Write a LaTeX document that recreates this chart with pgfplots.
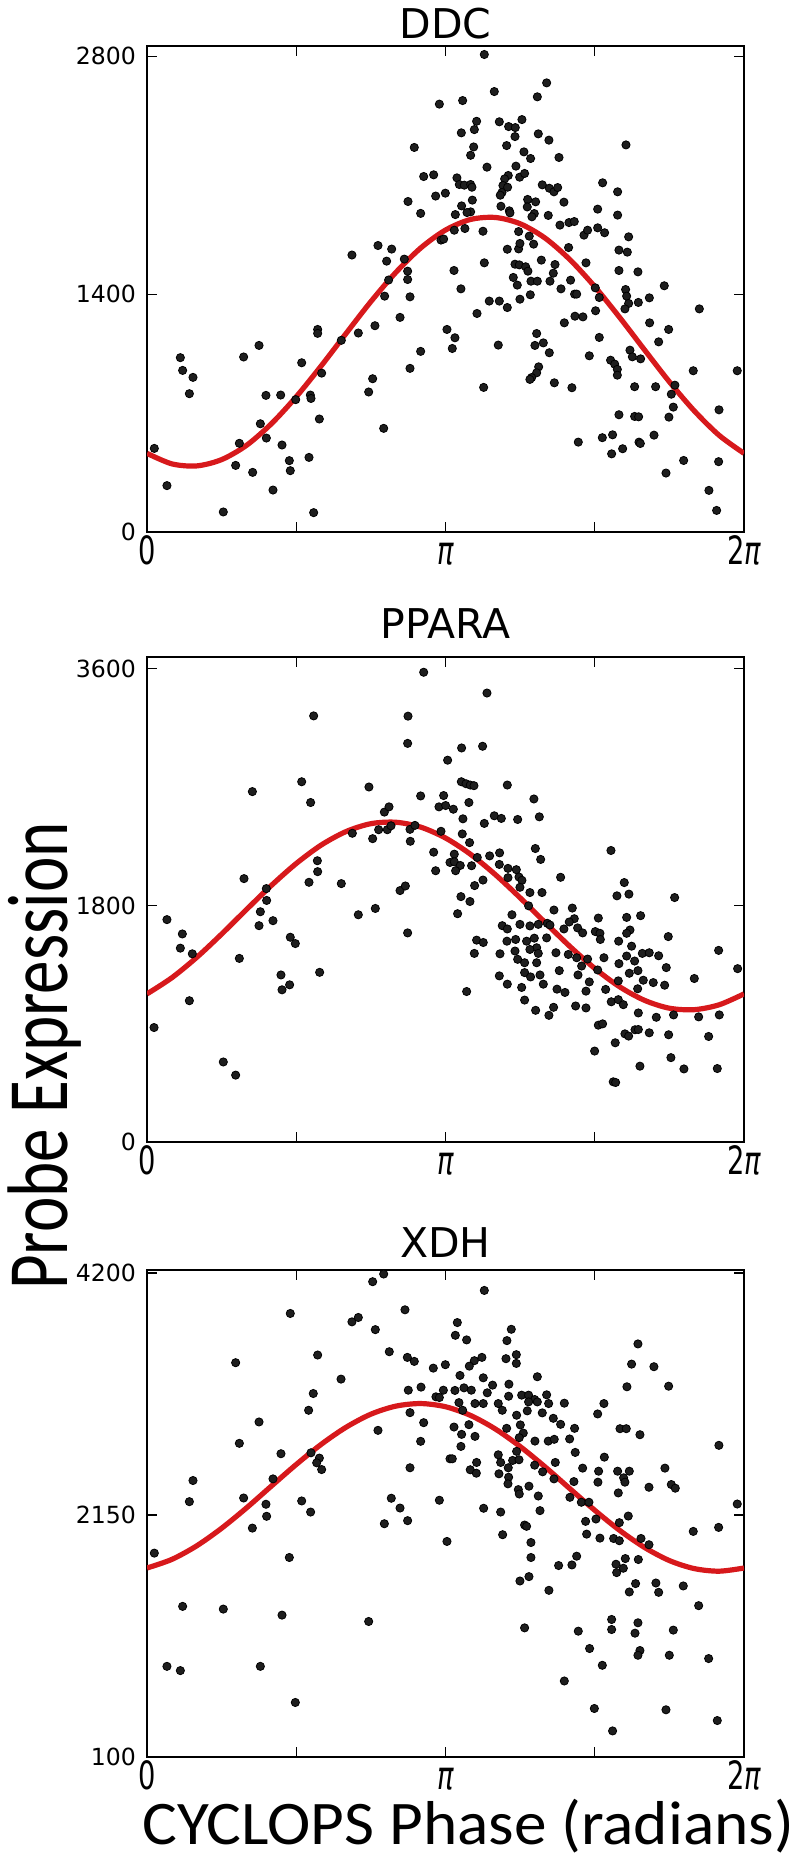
\documentclass[border=0pt]{standalone}
\usepackage{fontspec}
\setmainfont{DejaVu Sans}
\newfontfamily\calibri{Carlito}
\usepackage{pgfplots}
\usepackage{pgfplotstable}
\pgfplotsset{compat=1.18}
\definecolor{fitred}{HTML}{D7191C}
\definecolor{dotgrey}{HTML}{1E1E1E}
\newcommand{\sq}[1]{\scalebox{0.7}[1]{#1}}

\pgfplotsset{
  panel/.style={
    scale only axis, width=298.5pt, anchor=south west,
    xmin=0, xmax=6.2832,
    xtick={0,1.5708,3.1416,4.7124,6.2832},
    xticklabels={\sq{0},,\sq{\itshape π},,\sq{2\itshape π}},
    tick align=inside, major tick length=5pt,
    tick style={black,line width=0.6pt},
    axis line style={line width=0.8pt},
    x tick label style={font=\fontsize{19.5}{20}\selectfont,anchor=base,inner sep=0pt,yshift=-16pt},
    y tick label style={font=\fontsize{11.8}{12}\selectfont,xshift=-2pt},
    title style={font=\fontsize{20.5}{21}\selectfont,at={(0.5,1)},anchor=base},
  },
  dots/.style={only marks,mark=*,mark size=2.05pt,mark options={draw=none,fill=dotgrey}},
  fitline/.style={no marks,fitred,line width=2.6pt,smooth},
}

% cosine fits
\pgfplotstableread{
x      ddc  ppara xdh
0      463  1127  1701
0.2618 401  1250  1774
0.5236 389  1405  1889
0.7854 426  1582  2038
1.0472 510  1769  2210
1.3090 637  1952  2395
1.5708 796  2119  2578
1.8326 977  2259  2748
2.0944 1168 2362  2893
2.3562 1356 2422  3004
2.6180 1527 2433  3072
2.8798 1671 2396  3094
3.1416 1777 2313  3067
3.4034 1839 2190  2994
3.6652 1851 2035  2879
3.9270 1814 1858  2730
4.1888 1730 1671  2558
4.4506 1603 1488  2373
4.7124 1444 1321  2190
4.9742 1263 1181  2020
5.2360 1072 1078  1875
5.4978 884  1018  1764
5.7596 713  1007  1696
6.0214 569  1044  1674
6.2832 463  1127  1701
}\fits

\begin{document}
\begin{tikzpicture}
\path[use as bounding box] (0,0) rectangle (396.5pt,-929.5pt);

% ---- DDC
\begin{axis}[panel, at={(73.5pt,-266pt)}, height=243pt,
  ymin=0, ymax=2860, ytick={0,1400,2800}, yticklabels={0,1400,2800},
  title={DDC}, title style={yshift=-2pt}]
\addplot[dots] coordinates {
(3.077,2518)(2.813,2263)(2.912,2092)(3.017,2102)(3.038,1977)(3.140,1994)(2.747,1945)(2.880,1875)(3.094,1718)(3.122,1724)(2.157,1630)(2.431,1686)(2.575,1665)(2.522,1594)(2.708,1606)(2.743,1535)(2.743,1486)(2.543,1483)(2.501,1388)(2.768,1384)(2.663,1263)(2.399,1214)(2.224,1171)(2.045,1128)(1.796,1192)(1.796,1169)(3.157,1192)(1.179,1098)(1.017,1030)(0.351,1026)(0.375,951)(0.484,910)(0.446,814)(1.628,996)(1.838,935)(2.375,902)(2.333,824)(2.880,1063)(2.768,963)(1.252,804)(1.407,806)(1.565,779)(1.719,806)(1.726,786)(1.814,665)(2.491,610)(1.193,637)(1.256,553)(0.972,522)(1.421,512)(0.077,492)(0.933,392)(1.112,351)(1.498,420)(1.508,361)(1.705,439)(0.210,273)(1.326,247)(0.803,118)(1.754,114)
(3.550,2810)(4.206,2643)(3.655,2592)(4.108,2561)(3.322,2539)(3.469,2417)(3.445,2368)(3.708,2414)(3.806,2386)(3.876,2380)(3.946,2427)(3.308,2349)(3.873,2327)(4.118,2343)(4.230,2306)(3.438,2266)(3.785,2274)(3.406,2217)(3.967,2237)(4.037,2198)(4.336,2204)(3.578,2147)(3.883,2153)(3.802,2098)(3.764,2078)(3.922,2088)(3.974,2110)(3.262,2084)(3.287,2045)(3.339,2041)(3.406,2045)(3.420,2029)(3.746,2039)(3.736,1998)(3.795,2029)(4.160,2043)(4.234,2023)(4.283,2002)(4.322,2027)(4.388,1941)(4.795,2055)(4.953,2002)(5.041,2278)(3.424,1953)(3.311,1919)(3.718,1982)(3.725,1917)(4.006,1957)(4.090,1943)(4.002,1913)(3.245,1868)(3.406,1884)(3.368,1880)(3.813,1890)(3.820,1878)(4.076,1874)(4.051,1855)(4.223,1863)(4.743,1900)(4.953,1865)
(3.346,1786)(3.234,1776)(3.536,1770)(3.911,1768)(4.023,1741)(4.346,1806)(4.441,1821)(4.497,1827)(4.599,1747)(4.637,1776)(4.743,1790)(4.816,1761)(5.069,1737)(3.792,1664)(3.911,1666)(3.925,1698)(4.069,1694)(4.437,1674)(4.967,1659)(5.055,1647)(3.550,1584)(3.873,1576)(3.918,1572)(3.985,1561)(4.009,1535)(4.150,1600)(4.294,1574)(4.620,1584)(4.967,1539)(5.167,1531)(3.231,1539)(3.855,1498)(3.897,1453)(4.041,1476)(4.108,1476)(4.241,1476)(4.276,1523)(4.458,1482)(4.357,1431)(4.500,1400)(4.522,1400)(4.718,1437)(4.760,1380)(5.037,1427)(5.048,1388)(5.069,1345)(5.030,1313)(5.171,1351)(5.287,1378)(5.444,1449)(5.813,1313)(3.304,1431)(3.602,1359)(3.708,1359)(3.792,1321)(3.473,1286)(3.925,1370)(4.034,1396)(4.721,1302)(4.392,1231)(4.504,1270)(4.588,1266)(5.290,1231)(5.490,1192)
(3.241,1143)(3.213,1080)(3.697,1100)(4.101,1168)(4.083,1098)(4.171,1113)(4.234,1055)(4.760,1145)(4.655,1037)(5.385,1119)(5.083,1070)(5.108,1031)(5.195,1019)(4.879,1011)(4.922,988)(4.950,957)(4.950,923)(5.749,949)(6.212,949)(4.122,972)(4.101,937)(4.048,909)(4.030,898)(4.287,878)(4.472,849)(3.543,851)(5.132,855)(5.353,855)(5.556,864)(5.518,811)(5.539,735)(5.493,676)(4.967,690)(5.132,680)(5.174,678)(6.020,719)(4.539,529)(4.792,555)(4.900,572)(4.890,460)(5.006,490)(5.178,529)(5.192,521)(5.336,570)(5.648,421)(6.016,414)(5.462,347)(5.914,245)(5.995,127)
};
\addplot[fitline] table[x=x,y=ddc]{\fits};
\end{axis}

% ---- PPARA
\begin{axis}[panel, at={(73.5pt,-571pt)}, height=242.5pt,
  ymin=0, ymax=3690, ytick={0,1800,3600}, yticklabels={0,1800,3600},
  title={PPARA}, title style={yshift=3.5pt}]
\addplot[dots] coordinates {
(2.912,3574)(1.754,3242)(2.747,3240)(2.743,3033)(3.164,2905)(1.628,2741)(1.109,2666)(1.722,2583)(2.336,2701)(2.880,2633)(3.122,2636)(3.073,2550)(3.143,2560)(2.498,2510)(2.547,2550)(2.161,2349)(2.438,2376)(2.529,2376)(2.568,2406)(2.375,2308)(2.768,2379)(2.820,2409)(2.771,2288)(3.094,2364)(3.017,2205)(3.038,2064)(3.189,2127)(1.793,2140)(1.796,2057)(1.705,1976)(2.045,1966)(1.021,2004)(1.256,1928)(1.259,1838)(1.193,1752)(1.179,1646)(1.326,1684)(2.663,1913)(2.719,1948)(2.224,1729)(2.403,1777)(2.743,1591)(0.210,1692)(0.372,1583)(0.351,1475)(0.477,1432)(0.972,1397)(1.508,1558)(1.561,1510)(1.817,1291)(1.410,1271)(1.421,1158)(1.501,1196)(0.446,1075)(0.074,871)(0.803,609)(0.933,509)
(3.578,3416)(3.311,2998)(3.532,3011)(3.308,2741)(3.357,2726)(3.402,2716)(3.441,2711)(3.792,2716)(4.072,2610)(3.388,2583)(3.224,2532)(3.325,2459)(3.655,2482)(3.729,2462)(3.901,2454)(4.129,2474)(3.550,2424)(3.318,2344)(3.395,2278)(4.087,2233)(4.143,2150)(4.883,2218)(3.606,2177)(3.711,2200)(3.234,2190)(3.234,2132)(3.297,2104)(3.416,2102)(3.476,2165)(3.248,2064)(3.708,2112)(3.799,2082)(3.887,2072)(3.799,2011)(3.915,2016)(3.946,1991)(3.925,1938)(3.536,1993)(3.448,1951)(4.030,1898)(4.157,1898)(4.353,2014)(5.023,1974)(4.946,1873)(5.072,1886)(5.553,1860)(3.304,1867)(3.399,1830)(3.269,1737)(3.841,1729)(4.016,1797)(4.283,1765)(4.476,1780)(4.497,1699)(4.750,1704)(5.048,1709)(5.195,1722)
(3.739,1646)(3.792,1621)(3.925,1656)(4.030,1644)(4.118,1656)(4.213,1664)(4.241,1651)(4.388,1621)(4.444,1674)(4.532,1629)(4.585,1591)(4.718,1601)(4.767,1588)(5.083,1613)(5.048,1588)(5.486,1563)(3.469,1536)(3.539,1518)(3.788,1528)(3.880,1541)(3.995,1528)(4.076,1551)(4.206,1553)(4.101,1478)(4.771,1541)(4.964,1528)(5.100,1490)(3.445,1435)(3.715,1432)(3.873,1453)(4.030,1465)(4.118,1435)(4.304,1440)(4.434,1427)(4.522,1402)(4.637,1392)(4.809,1402)(5.048,1415)(5.132,1377)(5.213,1435)(5.286,1440)(5.385,1417)(6.016,1458)(3.901,1390)(3.974,1364)(4.101,1364)(4.574,1339)(4.743,1309)(4.967,1357)(5.167,1304)(5.465,1327)(6.216,1319)(5.760,1244)
(3.708,1264)(3.792,1201)(3.974,1289)(4.037,1256)(4.136,1271)(4.171,1201)(4.339,1304)(4.536,1271)(4.655,1218)(4.960,1226)(5.076,1284)(5.223,1231)(5.328,1213)(5.448,1193)(3.364,1145)(3.943,1176)(4.315,1163)(4.399,1138)(4.620,1148)(4.827,1161)(5.164,1166)(3.974,1080)(4.090,1002)(4.230,964)(4.279,1025)(4.511,1035)(4.620,1020)(4.886,1067)(4.960,1083)(5.013,1045)(5.171,982)(5.360,949)(5.542,967)(5.806,952)(6.023,967)(4.750,889)(4.795,899)(4.928,755)(5.030,823)(5.069,806)(5.136,854)(5.171,856)(5.286,831)(5.490,816)(5.911,803)(4.711,692)(5.188,577)(5.514,642)(5.651,556)(6.002,559)(4.907,458)(4.932,453)
};
\addplot[fitline] table[x=x,y=ppara]{\fits};
\end{axis}

% ---- XDH
\begin{axis}[panel, at={(73.5pt,-878.5pt)}, height=243.5pt,
  ymin=100, ymax=4225, ytick={100,2150,4200}, yticklabels={100,2150,4200},
  title={XDH}, title style={yshift=0.5pt}]
\addplot[dots] coordinates {
(2.491,4191)(2.375,4126)(1.508,3857)(2.715,3888)(2.157,3786)(2.224,3823)(2.403,3720)(0.933,3440)(1.796,3505)(2.550,3533)(2.740,3485)(2.813,3451)(3.013,3394)(3.140,3423)(2.042,3301)(1.750,3179)(1.701,3037)(2.750,3207)(2.884,3233)(3.119,3207)(3.041,3151)(3.077,3145)(2.768,3017)(2.912,2932)(1.179,2938)(2.431,2867)(2.880,2774)(0.972,2757)(1.410,2669)(1.726,2677)(1.814,2632)(1.786,2592)(1.838,2535)(2.768,2550)(3.189,2626)(0.484,2442)(1.326,2456)(0.446,2263)(1.017,2294)(1.252,2241)(1.259,2139)(1.628,2269)(1.722,2175)(2.571,2292)(2.663,2209)(3.077,2275)(1.109,2039)(2.498,2076)(2.743,2102)(3.157,1926)(0.077,1827)(1.498,1790)(0.375,1376)(0.803,1353)(1.421,1302)(2.333,1248)(0.210,868)(0.351,832)(1.193,868)(1.561,562)
(3.550,4052)(3.266,3780)(3.245,3672)(3.364,3633)(3.834,3723)(3.788,3627)(5.167,3599)(3.887,3508)(3.778,3474)(3.887,3434)(3.525,3485)(3.445,3457)(3.392,3411)(5.100,3428)(5.335,3406)(3.294,3332)(3.539,3312)(4.108,3321)(5.051,3236)(5.490,3241)(3.241,3205)(3.336,3227)(3.413,3207)(3.637,3250)(3.809,3258)(3.581,3185)(3.806,3156)(3.943,3165)(4.016,3165)(4.080,3128)(4.206,3168)(3.283,3102)(3.452,3094)(3.539,3094)(3.697,3094)(4.016,3108)(4.108,3108)(4.227,3094)(4.392,3097)(4.809,3094)(4.743,3006)(3.322,3037)(3.739,3037)(3.890,2995)(4.002,3032)(4.160,3015)(4.276,2969)(4.353,2918)(4.500,2884)(4.978,2881)(5.044,2881)(5.188,2830)(3.388,2915)(3.231,2895)(3.311,2833)(3.452,2816)(3.785,2884)(3.929,2913)(3.960,2844)(3.918,2805)(4.223,2776)(4.286,2791)(4.448,2794)(4.083,2776)(3.304,2731)(4.507,2680)(4.813,2640)(3.890,2689)(3.697,2660)(3.213,2626)(3.469,2595)(3.722,2595)(3.848,2612)(3.915,2618)(4.080,2572)(4.164,2516)(4.297,2595)(4.585,2547)(4.753,2521)(4.953,2521)(5.076,2521)(5.451,2547)(6.019,2740)
(3.402,2533)(3.466,2504)(3.704,2499)(3.802,2550)(3.806,2470)(3.799,2414)(4.020,2394)(3.908,2365)(3.918,2328)(4.118,2311)(4.283,2456)(4.493,2433)(4.746,2428)(5.016,2465)(5.030,2428)(4.960,2337)(5.283,2385)(5.518,2408)(5.560,2377)(4.451,2300)(4.571,2258)(4.651,2258)(6.212,2243)(3.543,2207)(3.722,2175)(4.136,2187)(4.616,2096)(4.725,2116)(5.065,2141)(4.971,2085)(3.974,2065)(3.995,2054)(4.627,1988)(4.767,1954)(4.911,1951)(4.971,1932)(5.199,1951)(5.283,1898)(5.749,2011)(6.016,2045)(3.743,1983)(4.041,1917)(5.171,1773)(5.034,1781)(4.041,1790)(4.522,1801)(4.472,1727)(4.332,1722)(4.936,1733)(5.013,1699)(4.943,1662)(5.142,1569)(5.356,1574)(5.385,1495)(5.644,1549)(5.076,1498)(4.020,1628)(3.925,1591)(4.230,1512)(5.806,1382)(4.890,1265)(4.890,1180)(5.167,1237)(5.136,1149)(5.539,1175)(3.974,1194)(4.539,1166)(4.658,1019)(5.188,1002)(5.167,962)(5.497,962)(5.911,934)(4.792,877)(4.392,744)(4.708,511)(5.462,500)(4.900,321)(6.002,409)
};
\addplot[fitline] table[x=x,y=xdh]{\fits};
\end{axis}

% shared axis labels
\node[rotate=90,anchor=base,inner sep=0pt,font=\calibri\fontsize{43}{43}\selectfont]
  at (34pt,-528pt) {\scalebox{0.78}[1]{Probe Expression}};
\node[anchor=base west,inner sep=0pt,font=\calibri\fontsize{31}{32}\selectfont]
  at (71pt,-922pt) {\scalebox{1.053}[1]{CYCLOPS Phase (radians)}};
\end{tikzpicture}
\end{document}
